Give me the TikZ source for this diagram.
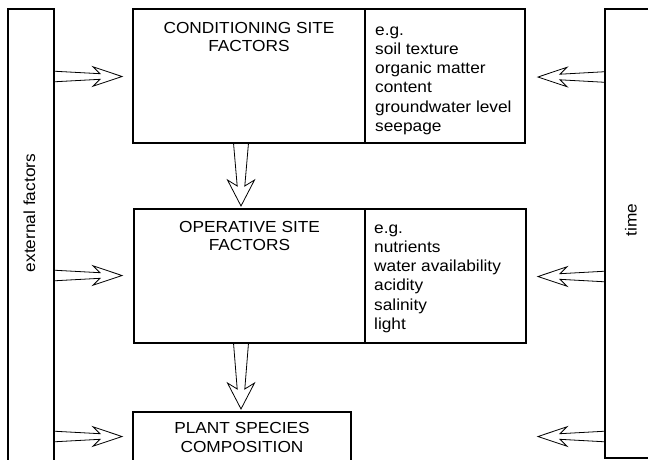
\documentclass[tikz,border=0pt]{standalone}
\usepackage{fontspec}
\setmainfont{Liberation Sans}[FakeStretch=1.08]
\usetikzlibrary{calc}

% Hollow block arrow from #1 to #2 (tip at #2).
% #3 shaft half-width at start, #4 shaft half-width at head,
% #5 distance from tip back to shaft end, #6 distance from tip back to barbs,
% #7 barb half-width.
\newcommand\hollowarrow[7]{%
  \path ($(#2)!#5!(#1)$) coordinate (ha-s)
        ($(#2)!#6!(#1)$) coordinate (ha-b);
  \draw[arrowline]
    ($(#1)!#3!90:(#2)$) -- ($(ha-s)!#4!90:(#2)$) -- ($(ha-b)!#7!90:(#2)$)
    -- (#2)
    -- ($(ha-b)!#7!-90:(#2)$) -- ($(ha-s)!#4!-90:(#2)$) -- ($(#1)!#3!-90:(#2)$);
}
\newcommand\sideblockarrow[2]{\hollowarrow{#1}{#2}{5.3pt}{2.8pt}{22pt}{29pt}{9.7pt}}
\newcommand\downblockarrow[2]{\hollowarrow{#1}{#2}{7.5pt}{3.8pt}{20pt}{26pt}{13.5pt}}

\begin{document}
\begin{tikzpicture}[x=1pt,y=-1pt,
  frame/.style={draw, line width=1.1pt, inner sep=0pt, outer sep=0pt, anchor=north west},
  arrowline/.style={draw, line width=0.8pt, line join=miter},
  caps/.style={inner sep=0pt, align=center, anchor=north, font=\fontsize{16}{17.7}\selectfont},
  items/.style={inner sep=0pt, align=left, anchor=north west, font=\fontsize{16}{19.2}\selectfont},
  sidelabel/.style={inner sep=0pt, rotate=90, font=\fontsize{16}{19}\selectfont}]
\useasboundingbox (0,0) rectangle (648,459);

% side bars
\node[frame, minimum width=46pt, minimum height=470pt] (ext) at (8,9) {};
\node[frame, minimum width=60pt, minimum height=449pt] (time) at (605,9) {};
\node[sidelabel] (extlbl) at (29.5,213) {external factors};
\node[sidelabel] (timelbl) at (631,220) {time};

% conditioning site factors
\node[frame, minimum width=392pt, minimum height=134pt] (cond) at (133,9) {};
\draw[line width=1.1pt] ($(cond.north west)+(232,0)$) -- ($(cond.south west)+(232,0)$);
\node[caps] (condt) at (249,20.9) {\strut CONDITIONING SITE\\FACTORS};
\node[items] (conde) at (375,21.6) {\strut e.g.\\soil texture\\organic matter\\content\\groundwater level\\seepage};

% operative site factors
\node[frame, minimum width=392pt, minimum height=134pt] (oper) at (134,209) {};
\draw[line width=1.1pt] ($(oper.north west)+(231,0)$) -- ($(oper.south west)+(231,0)$);
\node[caps] (opert) at (249.5,220.1) {\strut OPERATIVE SITE\\FACTORS};
\node[items] (opere) at (374,219.6) {\strut e.g.\\nutrients\\water availability\\acidity\\salinity\\light};

% plant species composition
\node[frame, minimum width=218pt, minimum height=60pt] (plant) at (133,412) {};
\node[caps, font=\fontsize{16}{19}\selectfont] (plantt) at (242,419.7) {\strut PLANT SPECIES\\COMPOSITION};

% arrow end points
\coordinate (l1s) at (ext.east |- 0,76.5);
\coordinate (l1e) at ([xshift=-11pt]cond.west |- 0,76.5);
\coordinate (l2s) at (ext.east |- 0,275.5);
\coordinate (l2e) at ([xshift=-12pt]oper.west |- 0,275.5);
\coordinate (l3s) at (ext.east |- 0,436.5);
\coordinate (l3e) at ([xshift=-11pt]plant.west |- 0,436.5);
\coordinate (r1s) at (time.west |- 0,77);
\coordinate (r1e) at ([xshift=13pt]cond.east |- 0,77);
\coordinate (r2s) at (time.west |- 0,276.5);
\coordinate (r2e) at ([xshift=12pt]oper.east |- 0,276.5);
\coordinate (r3s) at (time.west |- 0,436.5);
\coordinate (r3e) at (538,436.5);
\coordinate (d1s) at (241,0 |- cond.south);
\coordinate (d1e) at ([yshift=3pt]241,0 |- oper.north);
\coordinate (d2s) at (241,0 |- oper.south);
\coordinate (d2e) at ([yshift=3pt]241,0 |- plant.north);

% external factors and time acting on each level
\sideblockarrow{l1s}{l1e}
\sideblockarrow{l2s}{l2e}
\sideblockarrow{l3s}{l3e}
\sideblockarrow{r1s}{r1e}
\sideblockarrow{r2s}{r2e}
\sideblockarrow{r3s}{r3e}

% causal chain downwards
\downblockarrow{d1s}{d1e}
\downblockarrow{d2s}{d2e}
\end{tikzpicture}
\end{document}
